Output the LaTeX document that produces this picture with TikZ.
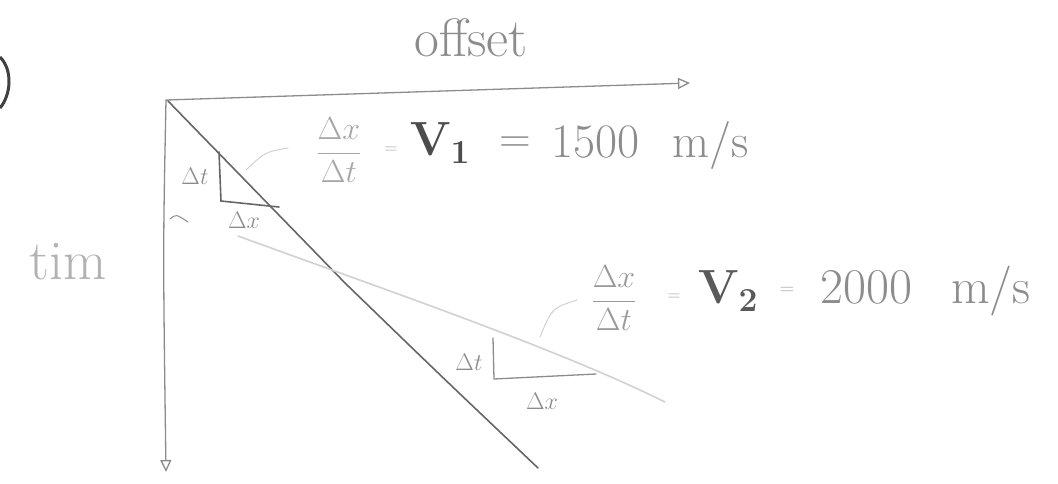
\RequirePackage{fix-cm}
\documentclass[tikz,border=0pt]{standalone}
\usetikzlibrary{arrows.meta}
\begin{document}
\begin{tikzpicture}[x=1pt,y=-1pt,
  pencil/.style={draw=black!45,line width=1.3pt,line cap=round},
  darkpencil/.style={draw=black!60,line width=1.6pt,line cap=round},
  faint/.style={draw=black!18,line width=1.6pt,line cap=round},
  axisarrow/.style={-{Triangle[open,length=12pt,width=11pt]}},
  txt/.style={text=black!45,inner sep=0pt},
  small/.style={txt,font=\fontsize{24}{24}\selectfont}]
\useasboundingbox (0,0) rectangle (1058,483);
% partial bracket at the left edge
\draw[line width=3pt,black!75] (0,57) .. controls (13,70) and (11,95) .. (0,108);
% axes
\coordinate (O) at (166,100);
\coordinate (xend) at (690,83);
\coordinate (tend) at (166,472);
\draw[pencil,axisarrow] (O) -- (xend);
\draw[pencil,axisarrow] (O) .. controls (163,250) .. (tend);
\node[txt,font=\fontsize{54}{54}\selectfont] (offset) at (471,38) {offset};
\node[txt,text=black!30,font=\fontsize{56}{56}\selectfont] (time) at (68,262) {tim};
% small tick on time axis
\coordinate (tk1) at (170,219);
\coordinate (tk2) at (188,222);
\draw[pencil,line width=1pt] (tk1) .. controls (176,214) .. (tk2);
% direct wave
\coordinate (d0) at (168,101);
\coordinate (d1) at (345,283);
\coordinate (d2) at (538,468);
\draw[darkpencil] (d0) -- (d1) .. controls (440,375) .. (d2);
% refracted wave
\coordinate (r0) at (238,236);
\coordinate (r1) at (665,402);
\draw[faint] (r0) .. controls (400,295) and (560,350) .. (r1);
% slope triangle 1
\coordinate (a1) at (219,152);
\coordinate (a2) at (221,201);
\coordinate (a3) at (279,207);
\draw[darkpencil] (a1) -- (a2) -- (a3);
\node[small] (dt1) at (195,176) {$\Delta t$};
\node[small] (dx1) at (244,220) {$\Delta x$};
% slope triangle 2
\coordinate (b1) at (493,338);
\coordinate (b2) at (494,379);
\coordinate (b3) at (596,374);
\draw[pencil] (b1) -- (b2) -- (b3);
\node[small] (dt2) at (469,362) {$\Delta t$};
\node[small] (dx2) at (542,401) {$\Delta x$};
% equation 1
\node[txt,text=black!35,font=\fontsize{32}{32}\selectfont] (f1) at (339,150) {$\displaystyle\frac{\Delta x}{\Delta t}$};
\node[txt,text=black!35,font=\fontsize{18}{18}\selectfont] (eq1a) at (391,150) {$=$};
\node[txt,text=black!70,font=\fontsize{48}{48}\selectfont] (v1) at (440,143) {$\mathbf{V}_{\mathbf 1}$};
\node[txt,font=\fontsize{44}{44}\selectfont] (eq1b) at (515,145) {$=$};
\node[txt,font=\fontsize{48}{48}\selectfont,anchor=base west] (n1) at (551,157) {1500};
\node[txt,font=\fontsize{48}{48}\selectfont,anchor=base west] (u1) at (672,157) {m/s};
\draw[faint,line width=1pt] (288,148) .. controls (265,152) .. (246,170);
% equation 2
\node[txt,text=black!40,font=\fontsize{32}{32}\selectfont] (f2) at (614,298) {$\displaystyle\frac{\Delta x}{\Delta t}$};
\node[txt,text=black!35,font=\fontsize{18}{18}\selectfont] (eq2a) at (674,297) {$=$};
\node[txt,text=black!65,font=\fontsize{48}{48}\selectfont] (v2) at (728,291) {$\mathbf{V}_{\mathbf 2}$};
\node[txt,text=black!35,font=\fontsize{20}{20}\selectfont] (eq2b) at (787,291) {$=$};
\node[txt,font=\fontsize{50}{50}\selectfont,anchor=base west] (n2) at (820,303) {2000};
\node[txt,font=\fontsize{50}{50}\selectfont,anchor=base west] (u2) at (951,303) {m/s};
\draw[faint,line width=1pt] (577,300) .. controls (552,308) .. (540,337);
\end{tikzpicture}
\end{document}
